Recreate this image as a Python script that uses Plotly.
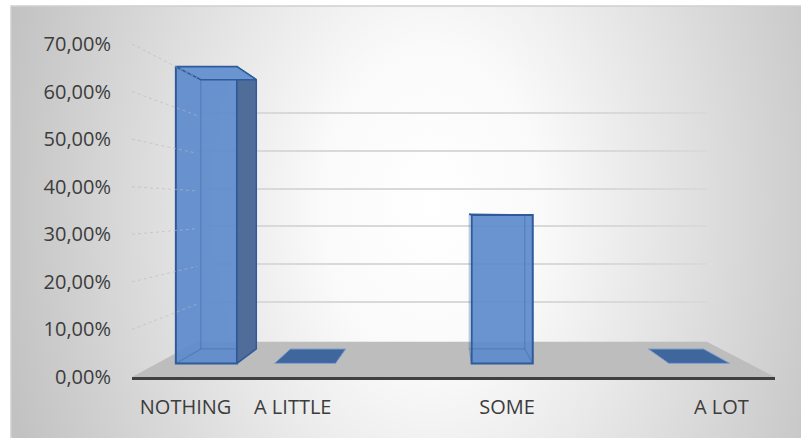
import base64
import plotly.graph_objects as go

# ---------------- data ----------------
categories = ["NOTHING", "A LITTLE", "", "SOME", "", "A LOT"]
values = [0.6667, 0.0, None, 0.3333, None, 0.0]
y_ticks = [0.0, 0.1, 0.2, 0.3, 0.4, 0.5, 0.6, 0.7]

# ---------------- layout geometry (pixels) ----------------
W, H = 801, 438
def fx(px): return px / W
def fy(py): return 1 - py / H

VPX, VPY = 446.0, 207.0          # vanishing point of the 3D view
FL, FR, FY0, FTOP = 132.0, 775.0, 377.0, 44.0   # front (label) plane
S_F, S_B, S_W = 0.92, 0.835, 0.793   # depth scales: bar front, bar back, back wall
N = len(categories)
SLOT_F = (FR - FL) / N
BAR_W = 0.62

# bar plane axis mapping
B = S_F * SLOT_F
A = VPX + S_F * (FL + 0.5 * SLOT_F - VPX)      # pixel of x=0
BAR_Y0 = VPY + S_F * (FY0 - VPY)
BAR_SCALE = 445.0
X2_PX = (100.0, 790.0)
Y2_PX = (415.0, 25.0)
x2_range = [(X2_PX[0] - A) / B, (X2_PX[1] - A) / B]
y2_range = [(BAR_Y0 - Y2_PX[0]) / BAR_SCALE, (BAR_Y0 - Y2_PX[1]) / BAR_SCALE]
VX = (VPX - A) / B
VY = (BAR_Y0 - VPY) / BAR_SCALE

def depth(x, v, k):
    return VX + k * (x - VX), VY + k * (v - VY)

fig = go.Figure()

# ---- back wall grid subplot (xy) ----
fig.add_trace(go.Scatter(x=[None], y=[None], xaxis="x", yaxis="y",
                         showlegend=False, hoverinfo="skip"))

# ---- bar plane subplot (x2y2) ----
kf, kb = 1.0 / S_F, S_W / S_F
fl = [depth(-0.5, 0, kf), depth(N - 0.5, 0, kf), depth(N - 0.5, 0, kb), depth(-0.5, 0, kb)]
floor_path = "M " + " L ".join(f"{p[0]:.4f},{p[1]:.4f}" for p in fl) + " Z"

kbar = S_B / S_F
edge_col = "#2f5b9c"
for i, v in enumerate(values):
    if v is None:
        continue
    xl, xr = i - BAR_W / 2, i + BAR_W / 2
    fbl, fbr, ftl, ftr = (xl, 0), (xr, 0), (xl, v), (xr, v)
    bbl, bbr, btl, btr = [depth(p[0], p[1], kbar) for p in (fbl, fbr, ftl, ftr)]
    if v > 0:
        for a_, b_ in [(bbl, bbr), (bbl, btl), (bbr, btr), (fbl, bbl), (fbr, bbr)]:
            fig.add_trace(go.Scatter(x=[a_[0], b_[0]], y=[a_[1], b_[1]], mode="lines",
                                     line=dict(color="rgba(47,91,156,0.35)", width=1.2),
                                     xaxis="x2", yaxis="y2", showlegend=False, hoverinfo="skip"))
        if bbr[0] > fbr[0]:
            poly = [ftr, fbr, bbr, btr]
            fig.add_trace(go.Scatter(x=[p[0] for p in poly] + [poly[0][0]],
                                     y=[p[1] for p in poly] + [poly[0][1]],
                                     fill="toself", fillcolor="#4f6d98", mode="lines",
                                     line=dict(color=edge_col, width=1.5),
                                     xaxis="x2", yaxis="y2", showlegend=False, hoverinfo="skip"))
        if bbl[0] < fbl[0] - 4:
            poly = [ftl, fbl, bbl, btl]
            fig.add_trace(go.Scatter(x=[p[0] for p in poly] + [poly[0][0]],
                                     y=[p[1] for p in poly] + [poly[0][1]],
                                     fill="toself", fillcolor="#4f6d98", mode="lines",
                                     line=dict(color=edge_col, width=1.5),
                                     xaxis="x2", yaxis="y2", showlegend=False, hoverinfo="skip"))
        top_col = "#6b95d0"
    else:
        top_col = "#3f679e"
    poly = [ftl, ftr, btr, btl]
    fig.add_trace(go.Scatter(x=[p[0] for p in poly] + [poly[0][0]],
                             y=[p[1] for p in poly] + [poly[0][1]],
                             fill="toself", fillcolor=top_col, mode="lines",
                             line=dict(color=edge_col if v > 0 else "#86a2cc", width=1.5 if v > 0 else 1),
                             xaxis="x2", yaxis="y2", showlegend=False, hoverinfo="skip"))

bx = [i for i, v in enumerate(values) if v]
by = [values[i] for i in bx]
fig.add_trace(go.Bar(x=bx, y=by, width=BAR_W, xaxis="x2", yaxis="y2",
                     marker=dict(color="rgba(92,139,204,0.92)", line=dict(color=edge_col, width=2)),
                     showlegend=False, hoverinfo="skip"))

# ---- front (label) plane subplot (x3y3) ----
front_scale = (FY0 - FTOP) / 0.7
VFX = (VPX - FL) / SLOT_F - 0.5
VFY = (FY0 - VPY) / front_scale
for t in y_ticks[1:]:
    bx_, by_ = VFX + S_W * (-0.5 - VFX), VFY + S_W * (t - VFY)
    fig.add_trace(go.Scatter(x=[-0.5, bx_], y=[t, by_], mode="lines",
                             line=dict(color="rgba(185,185,185,0.6)", width=1, dash="dot"),
                             xaxis="x3", yaxis="y3", showlegend=False, hoverinfo="skip"))

label_idx = [i for i, c in enumerate(categories) if c]
label_txt = [categories[i] for i in label_idx]

font = dict(family="Open Sans, Lato, sans-serif", size=20, color="#3c3c3c")

svg = ('<svg xmlns="http://www.w3.org/2000/svg" width="790" height="432" viewBox="0 0 790 432" '
       'preserveAspectRatio="none"><defs><radialGradient id="g" cx="0" cy="0" r="1" '
       'gradientUnits="userSpaceOnUse" gradientTransform="translate(420,200) scale(440,640)">'
       '<stop offset="0" stop-color="#ffffff"/><stop offset="0.25" stop-color="#fafafa"/>'
       '<stop offset="1" stop-color="#c2c2c2"/></radialGradient></defs>'
       '<rect width="790" height="432" fill="url(#g)"/></svg>')
src = "data:image/svg+xml;base64," + base64.b64encode(svg.encode()).decode()

fig.update_layout(
    width=W, height=H, autosize=False,
    margin=dict(l=0, r=0, t=0, b=0, pad=0, autoexpand=False),
    paper_bgcolor="white", plot_bgcolor="rgba(0,0,0,0)",
    separators=",.", showlegend=False, font=font,
    images=[dict(source=src, xref="paper", yref="paper", x=fx(11), y=fy(6),
                 sizex=(W - 11) / W, sizey=(H - 6) / H, xanchor="left", yanchor="top",
                 sizing="stretch", layer="below")],
    shapes=[dict(type="rect", xref="paper", yref="paper", x0=fx(11), y0=fy(6), x1=fx(W + 3), y1=fy(H + 3),
                 line=dict(color="#d0d0d0", width=1.5), layer="below"),
            dict(type="path", xref="x2", yref="y2", path=floor_path, fillcolor="#bdbdbd",
                 line=dict(width=0), layer="below")],
    xaxis=dict(domain=[fx(VPX + S_W * (FL - VPX)), fx(VPX + S_W * (FR - VPX))], range=[0, 1],
               showgrid=False, zeroline=False, showticklabels=False, showline=False, anchor="y",
               automargin=False),
    yaxis=dict(domain=[fy(340), fy(75)], range=[0, 0.7], tickvals=y_ticks[1:], showgrid=True,
               gridcolor="#d9d9d9", gridwidth=1.5, zeroline=False, showticklabels=False,
               showline=False, anchor="x", automargin=False),
    xaxis2=dict(domain=[fx(X2_PX[0]), fx(X2_PX[1])], range=x2_range, visible=False, anchor="y2",
                automargin=False),
    yaxis2=dict(domain=[fy(Y2_PX[0]), fy(Y2_PX[1])], range=y2_range, visible=False, anchor="x2",
                automargin=False),
    xaxis3=dict(domain=[fx(FL), fx(FR)], range=[-0.5, N - 0.5], tickvals=label_idx, ticktext=label_txt,
                showgrid=False, zeroline=False, showline=True, linecolor="#404040", linewidth=3,
                ticks="", ticklabelstandoff=10, anchor="y3", tickfont=font, automargin=False),
    yaxis3=dict(domain=[fy(FY0), fy(FTOP)], range=[0, 0.7], tickvals=y_ticks, tickformat=".2%",
                showgrid=False, zeroline=False, showline=False, ticks="", ticklabelstandoff=20,
                anchor="x3", tickfont=font, automargin=False),
)

fig.write_html("out.html")
